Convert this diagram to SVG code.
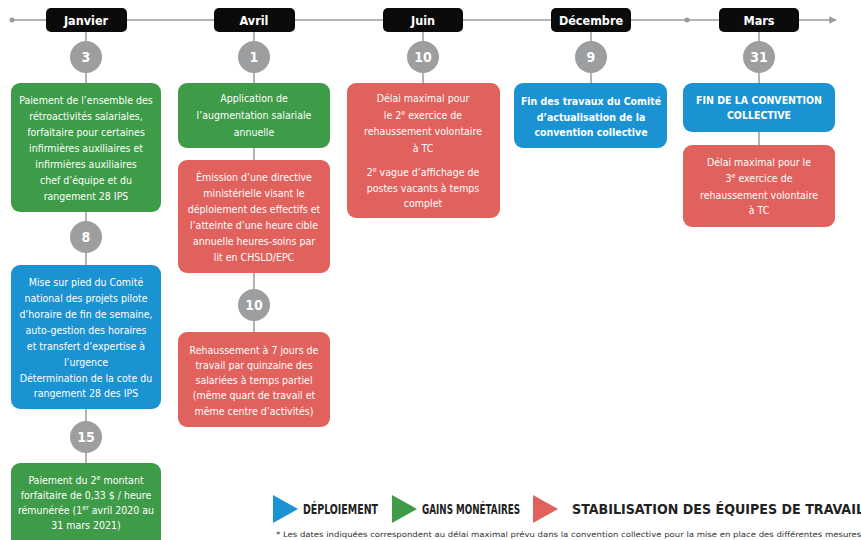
<svg xmlns="http://www.w3.org/2000/svg" width="861" height="540" viewBox="0 0 861 540">
<style>
text{font-family:"Liberation Sans Narrow","DejaVu Sans Condensed","Liberation Sans",sans-serif;font-weight:bold;text-anchor:middle}
.bt{fill:#fff;font-size:10.5px;font-weight:normal}
.bb{fill:#fff;font-size:10.5px}
.mon{fill:#fff;font-size:12.5px}
.num{fill:#fff;font-size:14px}
.g{fill:#3e9b47}.r{fill:#e1615d}.b{fill:#1b93d2}
.mb{fill:#0b0b0b}
.c{fill:#9c9ea0}
.ln{stroke:#9a9a9a;stroke-width:1.5;fill:none}
.lg{fill:#222;font-size:13.5px;text-anchor:start}
.ft{fill:#333;font-size:7.5px;font-weight:normal;text-anchor:start}
</style>
<defs>
<marker id="ah" viewBox="0 0 10 10" refX="9" refY="5" markerWidth="5" markerHeight="5" orient="auto"><path d="M0,0L10,5L0,10z" fill="#9a9a9a"/></marker>
</defs>
<g id="connectors">
<line class="ln" x1="12" y1="20" x2="836" y2="20" marker-end="url(#ah)"/>
<circle cx="12" cy="20" r="2.5" fill="#9a9a9a"/>
<circle cx="687" cy="20" r="2.5" fill="#9a9a9a"/>
<line class="ln" x1="86" y1="30" x2="86" y2="464"/>
<line class="ln" x1="254" y1="30" x2="254" y2="333"/>
<line class="ln" x1="423" y1="30" x2="423" y2="84"/>
<line class="ln" x1="591" y1="30" x2="591" y2="84"/>
<line class="ln" x1="759" y1="30" x2="759" y2="146"/>
</g>
<g id="m-janvier"><rect class="mb" x="46" y="8" width="81" height="24" rx="5"/><text class="mon" x="86" y="25">Janvier</text></g>
<g id="m-avril"><rect class="mb" x="214" y="8" width="81" height="24" rx="5"/><text class="mon" x="254" y="25">Avril</text></g>
<g id="m-juin"><rect class="mb" x="383" y="8" width="80" height="24" rx="5"/><text class="mon" x="423" y="25">Juin</text></g>
<g id="m-decembre"><rect class="mb" x="551" y="8" width="80" height="24" rx="5"/><text class="mon" x="591" y="25">Décembre</text></g>
<g id="m-mars"><rect class="mb" x="719" y="8" width="80" height="24" rx="5"/><text class="mon" x="759" y="25">Mars</text></g>

<g id="n-3"><circle class="c" cx="86" cy="57" r="16"/><text class="num" x="86" y="62">3</text></g>
<g id="n-1"><circle class="c" cx="254" cy="57" r="16"/><text class="num" x="254" y="62">1</text></g>
<g id="n-10a"><circle class="c" cx="423" cy="57" r="16"/><text class="num" x="423" y="62">10</text></g>
<g id="n-9"><circle class="c" cx="591" cy="57" r="16"/><text class="num" x="591" y="62">9</text></g>
<g id="n-31"><circle class="c" cx="759" cy="57" r="16"/><text class="num" x="759" y="62">31</text></g>
<g id="n-8"><circle class="c" cx="86" cy="237" r="16"/><text class="num" x="86" y="242">8</text></g>
<g id="n-15"><circle class="c" cx="86" cy="437" r="16"/><text class="num" x="86" y="442">15</text></g>
<g id="n-10b"><circle class="c" cx="254" cy="305" r="16"/><text class="num" x="254" y="310">10</text></g>

<g id="box-paiement1"><rect class="g" x="11" y="83" width="150" height="129" rx="9"/>
<text class="bt" x="86" y="104">Paiement de l’ensemble des</text>
<text class="bt" x="86" y="120">rétroactivités salariales,</text>
<text class="bt" x="86" y="136">forfaitaire pour certaines</text>
<text class="bt" x="86" y="152">infirmières auxiliaires et</text>
<text class="bt" x="86" y="168">infirmières auxiliaires</text>
<text class="bt" x="86" y="184">chef d’équipe et du</text>
<text class="bt" x="86" y="200">rangement 28 IPS</text></g>

<g id="box-comite"><rect class="b" x="11" y="265" width="150" height="144" rx="9"/>
<text class="bt" x="86" y="286">Mise sur pied du Comité</text>
<text class="bt" x="86" y="302">national des projets pilote</text>
<text class="bt" x="86" y="318">d’horaire de fin de semaine,</text>
<text class="bt" x="86" y="334">auto-gestion des horaires</text>
<text class="bt" x="86" y="350">et transfert d’expertise à</text>
<text class="bt" x="86" y="366">l’urgence</text>
<text class="bt" x="86" y="382">Détermination de la cote du</text>
<text class="bt" x="86" y="397">rangement 28 des IPS</text></g>

<g id="box-paiement2"><rect class="g" x="11" y="463" width="150" height="90" rx="9"/>
<text class="bt" x="86" y="484">Paiement du 2<tspan font-size="7" dy="-4">e</tspan><tspan dy="4"> montant</tspan></text>
<text class="bt" x="86" y="499">forfaitaire de 0,33 $ / heure</text>
<text class="bt" x="86" y="514">rémunérée (1<tspan font-size="7" dy="-4">er</tspan><tspan dy="4"> avril 2020 au</tspan></text>
<text class="bt" x="86" y="529">31 mars 2021)</text></g>

<g id="box-augmentation"><rect class="g" x="178" y="83" width="152" height="65" rx="9"/>
<text class="bt" x="254" y="102">Application de</text>
<text class="bt" x="254" y="119">l’augmentation salariale</text>
<text class="bt" x="254" y="136">annuelle</text></g>

<g id="box-directive"><rect class="r" x="178" y="160" width="152" height="113" rx="9"/>
<text class="bt" x="254" y="181">Émission d’une directive</text>
<text class="bt" x="254" y="197">ministérielle visant le</text>
<text class="bt" x="254" y="213">déploiement des effectifs et</text>
<text class="bt" x="254" y="229">l’atteinte d’une heure cible</text>
<text class="bt" x="254" y="245">annuelle heures-soins par</text>
<text class="bt" x="254" y="261">lit en CHSLD/EPC</text></g>

<g id="box-rehaussement7"><rect class="r" x="178" y="332" width="152" height="95" rx="9"/>
<text class="bt" x="254" y="354">Rehaussement à 7 jours de</text>
<text class="bt" x="254" y="369">travail par quinzaine des</text>
<text class="bt" x="254" y="384">salariées à temps partiel</text>
<text class="bt" x="254" y="399">(même quart de travail et</text>
<text class="bt" x="254" y="415">même centre d’activités)</text></g>

<g id="box-delai2"><rect class="r" x="347" y="83" width="153" height="135" rx="9"/>
<text class="bt" x="423" y="102">Délai maximal pour</text>
<text class="bt" x="423" y="119">le 2<tspan font-size="7" dy="-4">e</tspan><tspan dy="4"> exercice de</tspan></text>
<text class="bt" x="423" y="135">rehaussement volontaire</text>
<text class="bt" x="423" y="152">à TC</text>
<text class="bt" x="423" y="176">2<tspan font-size="7" dy="-4">e</tspan><tspan dy="4"> vague d’affichage de</tspan></text>
<text class="bt" x="423" y="192">postes vacants à temps</text>
<text class="bt" x="423" y="207">complet</text></g>

<g id="box-fintravaux"><rect class="b" x="514" y="83" width="153" height="65" rx="9"/>
<text class="bb" x="591" y="105">Fin des travaux du Comité</text>
<text class="bb" x="591" y="121">d’actualisation de la</text>
<text class="bb" x="591" y="136">convention collective</text></g>

<g id="box-finconvention"><rect class="b" x="683" y="83" width="152" height="49" rx="9"/>
<text class="bb" x="759" y="104">FIN DE LA CONVENTION</text>
<text class="bb" x="759" y="119">COLLECTIVE</text></g>

<g id="box-delai3"><rect class="r" x="683" y="145" width="152" height="82" rx="9"/>
<text class="bt" x="759" y="166">Délai maximal pour le</text>
<text class="bt" x="759" y="182">3<tspan font-size="7" dy="-4">e</tspan><tspan dy="4"> exercice de</tspan></text>
<text class="bt" x="759" y="199">rehaussement volontaire</text>
<text class="bt" x="759" y="214">à TC</text></g>

<g id="legend">
<path class="b" d="M273,495L298,509L273,523z"/>
<text class="lg" x="303" y="514" textLength="75" lengthAdjust="spacingAndGlyphs">DÉPLOIEMENT</text>
<path class="g" d="M392,495L417,509L392,523z"/>
<text class="lg" x="422" y="514" textLength="98" lengthAdjust="spacingAndGlyphs">GAINS MONÉTAIRES</text>
<path class="r" d="M533,495L558,509L533,523z"/>
<text class="lg" x="572" y="514" textLength="292" lengthAdjust="spacingAndGlyphs">STABILISATION DES ÉQUIPES DE TRAVAIL</text>
<text class="ft" x="276" y="537" textLength="588" lengthAdjust="spacingAndGlyphs">* Les dates indiquées correspondent au délai maximal prévu dans la convention collective pour la mise en place des différentes mesures.</text>
</g>
</svg>
